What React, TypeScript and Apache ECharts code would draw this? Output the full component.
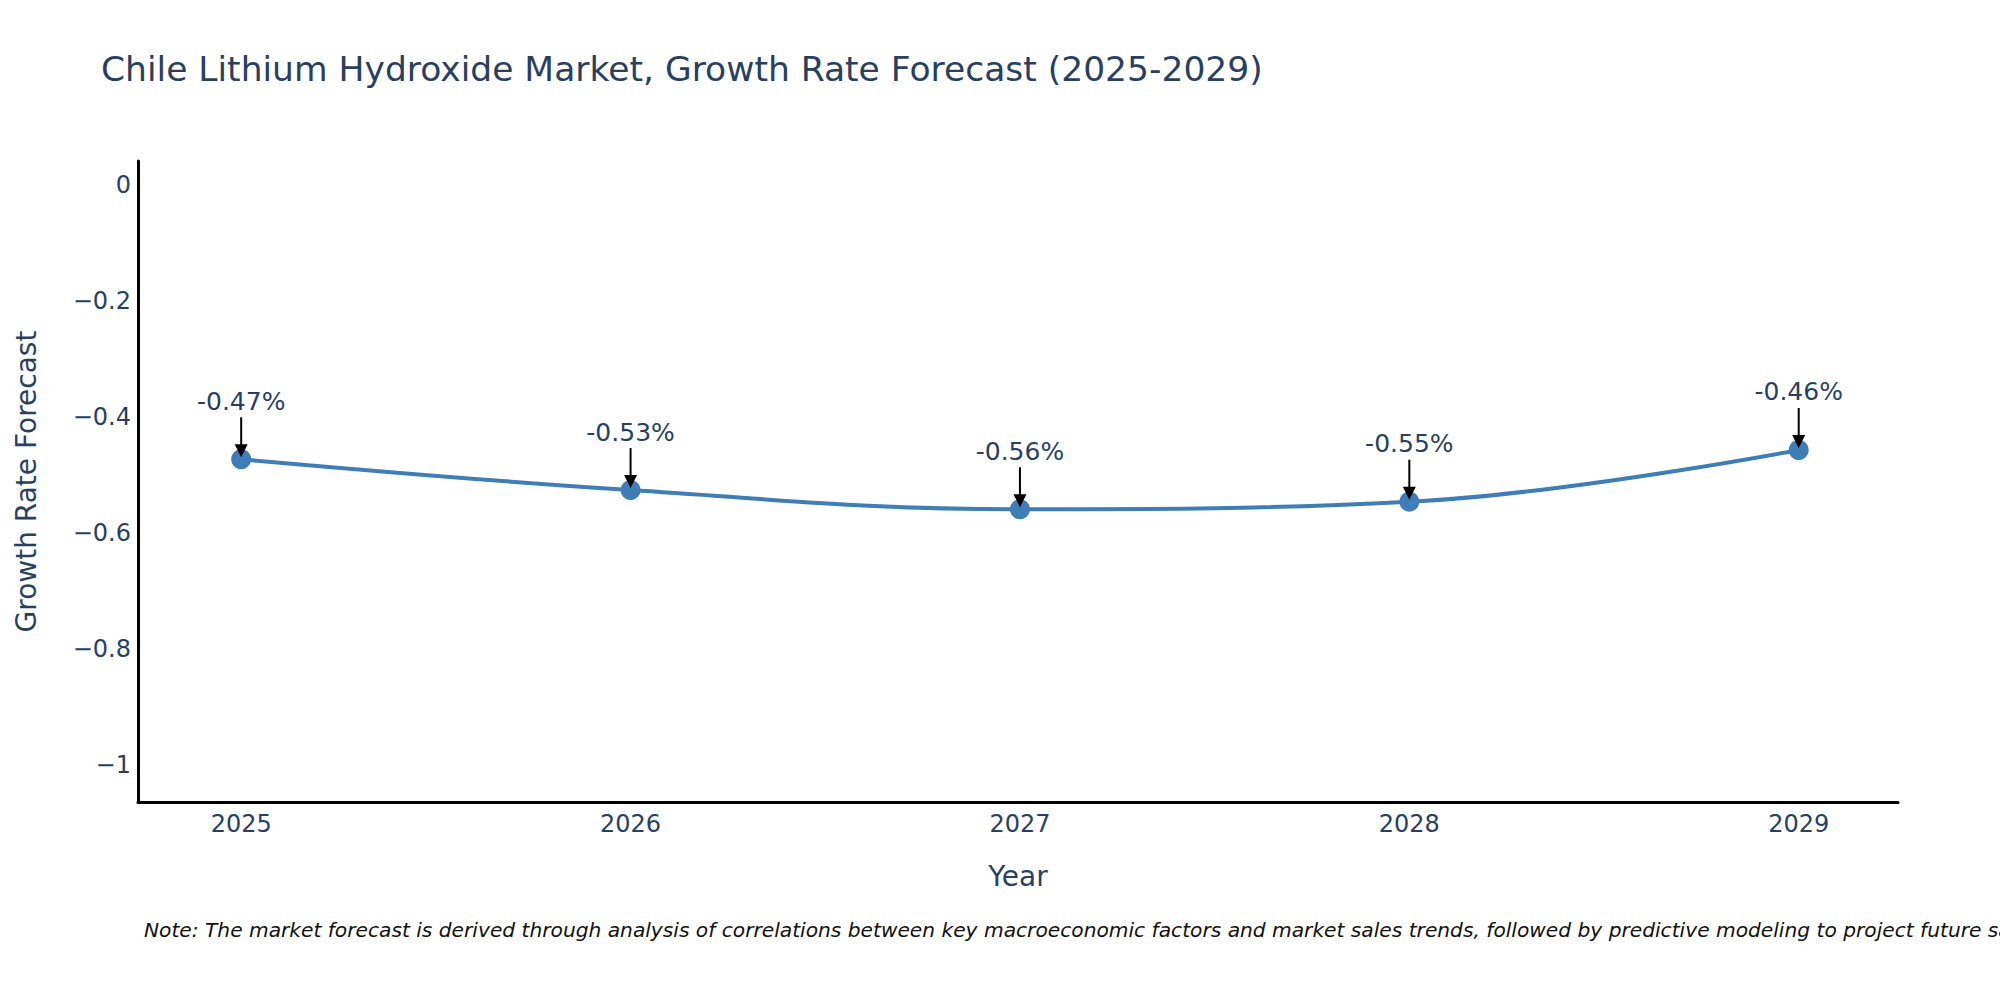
import React, { useEffect, useRef } from 'react';
import * as echarts from 'echarts';

const years: number[] = [2025, 2026, 2027, 2028, 2029];
const growthRates: number[] = [-0.473, -0.526, -0.559, -0.546, -0.457];
const rateLabels: string[] = ['-0.47%', '-0.53%', '-0.56%', '-0.55%', '-0.46%'];
const yTicks: number[] = [0, -0.2, -0.4, -0.6, -0.8, -1];

const FONT = 'DejaVu Sans, Verdana, sans-serif';
const TEXT_COLOR = '#2a3f5f';
const LINE_COLOR = '#3e7db6';

const NOTE =
  'Note: The market forecast is derived through analysis of correlations between key macroeconomic factors and market sales trends, followed by predictive modeling to project future sales.';

const App: React.FC = () => {
  const chartRef = useRef<HTMLDivElement | null>(null);

  useEffect(() => {
    if (!chartRef.current) return;
    const myChart = echarts.init(chartRef.current, null, { renderer: 'svg' });

    const option = {
      animation: false,
      backgroundColor: '#fff',
      title: {
        text: 'Chile Lithium Hydroxide Market, Growth Rate Forecast (2025-2029)',
        left: 96,
        top: 46,
        textStyle: {
          fontFamily: FONT,
          fontSize: 34.5,
          fontWeight: 'normal',
          color: TEXT_COLOR,
        },
      },
      grid: {
        left: 138,
        right: 102,
        top: 161,
        bottom: 198,
      },
      xAxis: {
        type: 'value',
        min: 2024.735,
        max: 2029.255,
        name: 'Year',
        nameLocation: 'middle',
        nameGap: 60,
        nameTextStyle: { fontFamily: FONT, fontSize: 28, color: TEXT_COLOR },
        axisLine: { show: true, onZero: false, lineStyle: { color: '#000', width: 3 } },
        axisTick: { show: false },
        splitLine: { show: false },
        axisLabel: {
          customValues: years,
          formatter: (v: number) => String(v),
          fontFamily: FONT,
          fontSize: 24,
          color: TEXT_COLOR,
          margin: 10,
        },
      },
      yAxis: {
        type: 'value',
        min: -1.063,
        max: 0.0405,
        name: 'Growth Rate Forecast',
        nameLocation: 'middle',
        nameGap: 98,
        nameTextStyle: { fontFamily: FONT, fontSize: 28, color: TEXT_COLOR },
        axisLine: { show: true, onZero: false, lineStyle: { color: '#000', width: 3 } },
        axisTick: { show: false },
        splitLine: { show: false },
        axisLabel: {
          customValues: yTicks,
          formatter: (v: number) => (v === 0 ? '0' : '\u2212' + Math.abs(v)),
          fontFamily: FONT,
          fontSize: 24,
          color: TEXT_COLOR,
          margin: 7,
        },
      },
      series: [
        {
          type: 'line',
          data: years.map((y, i) => [y, growthRates[i]]),
          smooth: 0.4,
          symbol: 'circle',
          symbolSize: 20,
          itemStyle: { color: LINE_COLOR },
          lineStyle: { color: LINE_COLOR, width: 4 },
          z: 2,
        },
        {
          type: 'custom',
          data: years.map((y, i) => [y, growthRates[i]]),
          z: 5,
          renderItem: (params: any, api: any) => {
            const p = api.coord([api.value(0), api.value(1)]);
            const x = p[0];
            const y = p[1];
            return {
              type: 'group',
              children: [
                {
                  type: 'line',
                  shape: { x1: x, y1: y - 42, x2: x, y2: y - 12 },
                  style: { stroke: '#000', lineWidth: 2 },
                },
                {
                  type: 'polygon',
                  shape: { points: [[x - 6.5, y - 15], [x + 6.5, y - 15], [x, y - 2]] },
                  style: { fill: '#000' },
                },
                {
                  type: 'text',
                  x: x,
                  y: y - 58,
                  style: {
                    text: rateLabels[params.dataIndex],
                    fontFamily: FONT,
                    fontSize: 25,
                    fill: TEXT_COLOR,
                    align: 'center',
                    verticalAlign: 'middle',
                  },
                },
              ],
            };
          },
        },
      ],
      graphic: [
        {
          type: 'text',
          left: 144,
          top: 920,
          style: {
            text: NOTE,
            fontFamily: FONT,
            fontSize: 20.2,
            fontStyle: 'italic',
            fill: '#111',
          },
        },
      ],
    };

    myChart.setOption(option);

    return () => {
      myChart.dispose();
    };
  }, []);

  return (
    <div
      ref={chartRef}
      style={{ position: 'fixed', left: 0, top: 0, width: '2000px', height: '1000px' }}
    />
  );
};

export default App;
